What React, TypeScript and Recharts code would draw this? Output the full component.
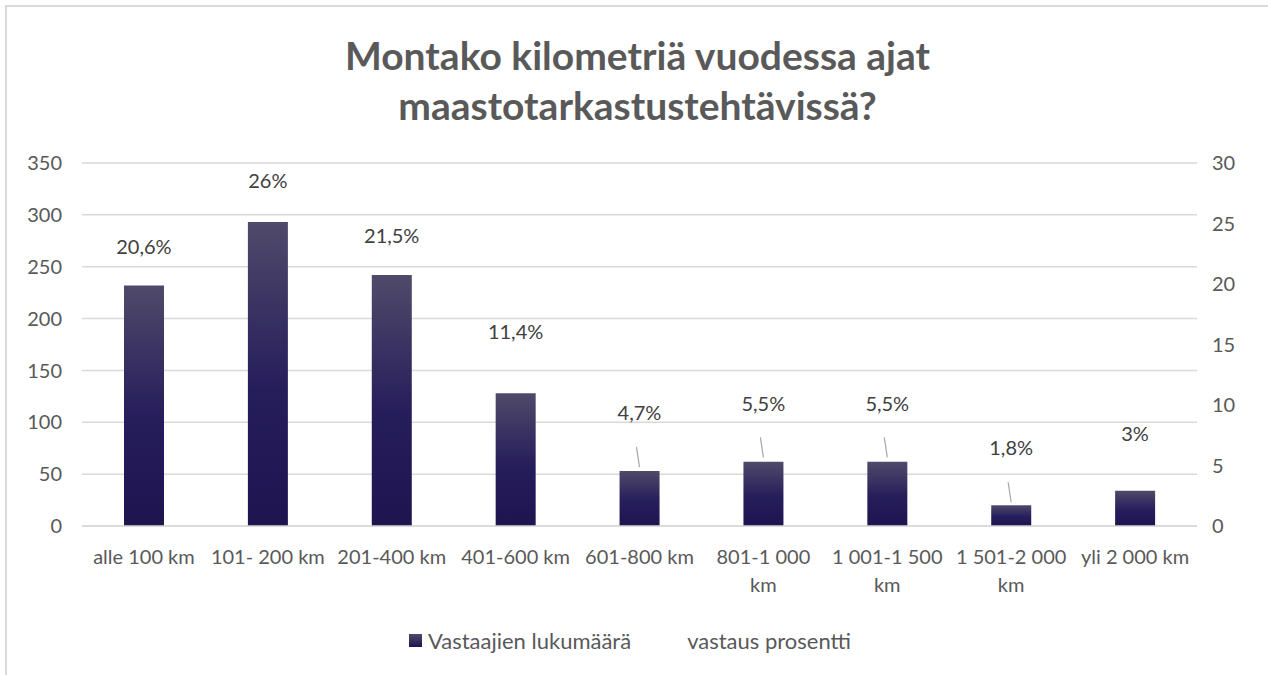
import React from "react";
import {
  ComposedChart,
  Bar,
  Line,
  XAxis,
  YAxis,
  CartesianGrid,
  LabelList,
  Legend,
} from "recharts";

// Data
const categories = [
  "alle 100 km",
  "101- 200 km",
  "201-400 km",
  "401-600 km",
  "601-800 km",
  "801-1 000 km",
  "1 001-1 500 km",
  "1 501-2 000 km",
  "yli 2 000 km",
];
const tickLines = [
  ["alle 100 km"],
  ["101- 200 km"],
  ["201-400 km"],
  ["401-600 km"],
  ["601-800 km"],
  ["801-1 000", "km"],
  ["1 001-1 500", "km"],
  ["1 501-2 000", "km"],
  ["yli 2 000 km"],
];
const respondents = [232, 293, 242, 128, 53, 62, 62, 20, 34];
const percents = [20.6, 26, 21.5, 11.4, 4.7, 5.5, 5.5, 1.8, 3];
const percentText = ["20,6%", "26%", "21,5%", "11,4%", "4,7%", "5,5%", "5,5%", "1,8%", "3%"];
const hasLeader = [false, false, false, false, true, true, true, true, false];
const leftTicks = [0, 50, 100, 150, 200, 250, 300, 350];
const rightTicks = [0, 5, 10, 15, 20, 25, 30];

const data = categories.map((c, i) => ({
  name: c,
  count: respondents[i],
  pct: percents[i],
}));

const FONT = "Lato, 'Open Sans', sans-serif";
const TEXT = "#595959";

function XTick(props: any) {
  const { x, y, payload } = props;
  const lines = tickLines[payload.index] || [payload.value];
  return (
    <g>
      {lines.map((l: string, k: number) => (
        <text
          key={k}
          x={x}
          y={y + 30 + k * 28}
          textAnchor="middle"
          fill={TEXT}
          fontSize={20}
          fontFamily={FONT}
        >
          {l}
        </text>
      ))}
    </g>
  );
}

function PctLabel(props: any) {
  const { x, y, index, value } = props;
  const off = value > 15 ? 28 : 54;
  return (
    <g>
      {hasLeader[index] && (
        <line
          x1={x}
          y1={y - 2}
          x2={x - 3}
          y2={y - 22}
          stroke="#a6a6a6"
          strokeWidth={1.2}
        />
      )}
      <text
        x={x}
        y={y - off}
        textAnchor="middle"
        dominantBaseline="middle"
        fill="#404040"
        fontSize={20}
        fontFamily={FONT}
      >
        {percentText[index]}
      </text>
    </g>
  );
}

function LegendContent() {
  return (
    <div
      style={{
        display: "flex",
        justifyContent: "center",
        alignItems: "center",
        fontFamily: FONT,
        fontSize: 22,
        color: TEXT,
        height: 26,
        paddingRight: 8,
      }}
    >
      <span
        style={{
          width: 13,
          height: 13,
          background: "linear-gradient(#4f4a6a, #1d1450)",
          display: "inline-block",
          marginRight: 6,
        }}
      />
      <span style={{ marginRight: 56 }}>Vastaajien lukumäärä</span>
      <span>vastaus prosentti</span>
    </div>
  );
}

export default function App() {
  return (
    <div
      style={{
        position: "absolute",
        left: 0,
        top: 0,
        width: 1268,
        height: 675,
        background: "#fff",
        overflow: "hidden",
      }}
    >
      <div
        style={{
          position: "absolute",
          left: 5,
          top: 5,
          width: 1300,
          height: 700,
          borderTop: "2px solid #d9d9d9",
          borderLeft: "2px solid #d9d9d9",
        }}
      />
      <div
        style={{
          position: "absolute",
          left: 0,
          width: 1275,
          top: 30,
          textAlign: "center",
          fontFamily: FONT,
          fontWeight: 700,
          fontSize: 39,
          lineHeight: "50px",
          color: TEXT,
        }}
      >
        Montako kilometriä vuodessa ajat
        <br />
        maastotarkastustehtävissä?
      </div>
      <div style={{ position: "absolute", left: 0, top: 0 }}>
        <ComposedChart
          width={1268}
          height={675}
          data={data}
          margin={{ top: 163, right: 0, bottom: 43, left: 0 }}
          barCategoryGap={0}
        >
          <defs>
            <linearGradient id="barGrad" x1="0" y1="0" x2="0" y2="1">
              <stop offset="0%" stopColor="#4f4a6a" />
              <stop offset="55%" stopColor="#261d5b" />
              <stop offset="100%" stopColor="#1d1450" />
            </linearGradient>
          </defs>
          <CartesianGrid
            vertical={false}
            stroke="#d9d9d9"
            strokeWidth={1.5}
            yAxisId="left"
          />
          <XAxis
            dataKey="name"
            axisLine={{ stroke: "#d9d9d9", strokeWidth: 1.5 }}
            tickLine={false}
            height={80}
            interval={0}
            tick={<XTick />}
          />
          <YAxis
            yAxisId="left"
            domain={[0, 350]}
            ticks={leftTicks}
            width={82}
            axisLine={false}
            tickLine={false}
            tickSize={0}
            tickMargin={20}
            tick={{ fill: TEXT, fontSize: 20, fontFamily: FONT }}
          />
          <YAxis
            yAxisId="right"
            orientation="right"
            domain={[0, 30]}
            ticks={rightTicks}
            width={71}
            axisLine={false}
            tickLine={false}
            tickSize={0}
            tickMargin={15}
            tick={{ fill: TEXT, fontSize: 20, fontFamily: FONT, textAnchor: "start" }}
          />
          <Bar
            yAxisId="left"
            dataKey="count"
            name="Vastaajien lukumäärä"
            fill="url(#barGrad)"
            barSize={40}
            isAnimationActive={false}
          />
          <Line
            yAxisId="right"
            dataKey="pct"
            name="vastaus prosentti"
            stroke="none"
            dot={false}
            activeDot={false}
            isAnimationActive={false}
          >
            <LabelList dataKey="pct" content={<PctLabel />} />
          </Line>
          <Legend
            verticalAlign="bottom"
            content={<LegendContent />}
            wrapperStyle={{ bottom: 22, left: 0, width: 1268 }}
          />
        </ComposedChart>
      </div>
    </div>
  );
}
